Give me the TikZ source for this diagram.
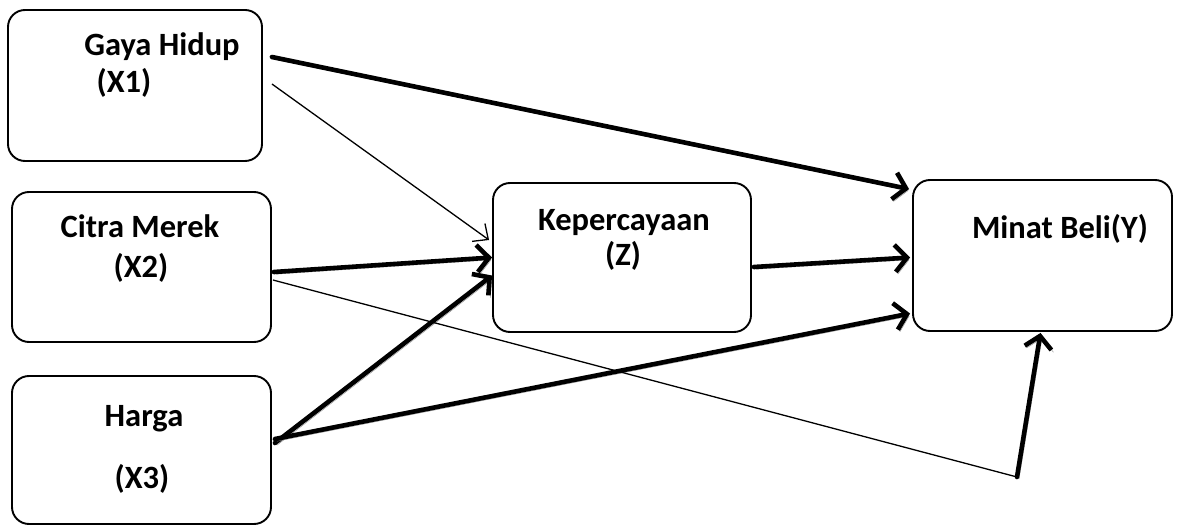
\documentclass[tikz,border=0pt]{standalone}
\usepackage{fontspec}
\setmainfont{Carlito}
\usetikzlibrary{arrows.meta}
\definecolor{shadowgray}{HTML}{8A8A8A}

\begin{document}
\begin{tikzpicture}[x=1pt,y=-1pt,
  box/.style={draw, line width=1.9pt, rounded corners=17pt, inner sep=0pt},
  lbl/.style={anchor=base, inner sep=0pt, font=\fontsize{32.5}{38}\selectfont\bfseries},
  thinlink/.style={line width=1.3pt, -{Straight Barb[length=12pt,width=22pt,line width=1.3pt]}},
  thinline/.style={line width=1.3pt},
  thicklink/.style={line width=4.6pt, line cap=round,
    -{Straight Barb[length=12pt,width=27pt,line width=4.6pt]},
    preaction={draw=shadowgray, transform canvas={xshift=2pt,yshift=-2.2pt}}}
]
\useasboundingbox (0,0) rectangle (1177,526);

% variable boxes
\node[box, minimum width=254pt, minimum height=151pt] (x1) at (135,85.5) {};
\node[box, minimum width=259pt, minimum height=150pt] (x2) at (141.5,267) {};
\node[box, minimum width=259pt, minimum height=148pt] (x3) at (141.5,450) {};
\node[box, minimum width=258pt, minimum height=149pt] (z) at (622,257.5) {};
\node[box, minimum width=259pt, minimum height=151pt] (y) at (1042.5,255.5) {};

% box labels
\node[lbl] (x1a) at (162,56) {Gaya Hidup};
\node[lbl] (x1b) at (124,93) {(X1)};
\node[lbl] (x2a) at (140,238) {Citra Merek};
\node[lbl] (x2b) at (141,278) {(X2)};
\node[lbl] (x3a) at (144,426) {Harga};
\node[lbl] (x3b) at (142,488) {(X3)};
\node[lbl] (za) at (624,231) {Kepercayaan};
\node[lbl] (zb) at (623,266) {(Z)};
\node[lbl] (ya) at (1060,239) {Minat Beli(Y)};

% corner of the X2 -> Y path
\coordinate (c) at (1017,477);

% connectors
\draw[thicklink] ([shift={(9,-28.5)}]x1.east) -- ([shift={(-3,10)}]y.north west);
\draw[thinlink] ([shift={(9,-1.5)}]x1.east) -- ([shift={(-3,-17.5)}]z.west);
\draw[thicklink] ([shift={(2,5)}]x2.east) -- ([shift={(0,0)}]z.west);
\draw[thicklink] ([shift={(3,-7)}]x3.east) -- ([shift={(0,18)}]z.west);
\draw[thicklink] ([shift={(3,-11)}]x3.east) -- ([shift={(-2,58)}]y.west);
\draw[thicklink] ([shift={(2,9.5)}]z.east) -- ([shift={(-2,2)}]y.west);
\draw[thinline] ([shift={(1,13)}]x2.east) -- (c);
\draw[thicklink] (c) -- ([shift={(-2,1)}]y.south);
\end{tikzpicture}
\end{document}
